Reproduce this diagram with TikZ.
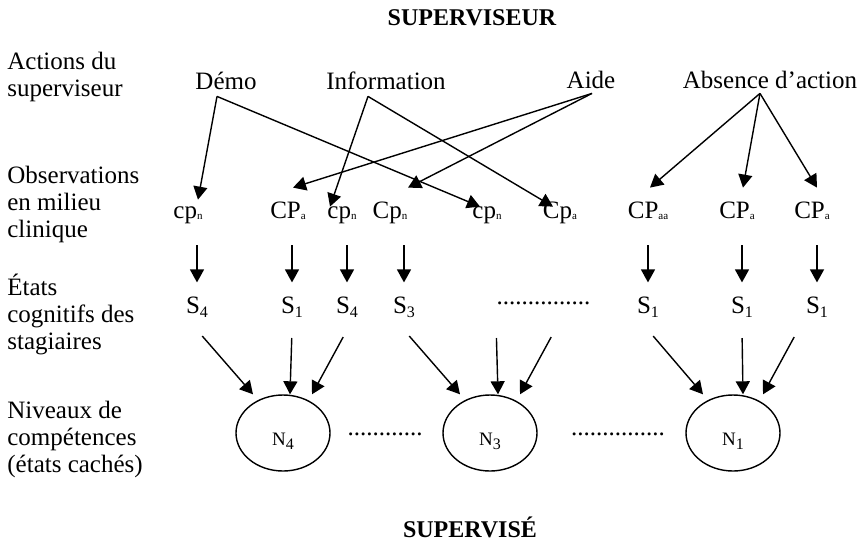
\documentclass[tikz,border=0pt]{standalone}
\usepackage{fontspec}
\setmainfont{Liberation Serif}
\usetikzlibrary{arrows.meta,shapes.geometric}
\newcommand{\pind}[1]{\raisebox{-0.5pt}{\fontsize{5.5}{6}\selectfont #1}}
\newcommand{\sind}[1]{\raisebox{-2pt}{\fontsize{8}{9}\selectfont #1}}

\begin{document}
\begin{tikzpicture}[x=0.5pt,y=-0.5pt,font=\fontsize{12.5}{13.5}\selectfont,
  fleche/.style={line width=0.7pt,->,>={Triangle[length=6.5pt,width=7pt]}},
  action/.style={anchor=base,text depth=2.5pt,inner sep=1pt},
  obs/.style={anchor=base,text height=8pt,text depth=2.5pt,inner sep=1pt},
  etat/.style={anchor=base,text height=8.3pt,text depth=1.5pt,inner sep=1pt,outer sep=6pt},
  niveau/.style={draw,ellipse,line width=0.7pt,minimum width=47pt,minimum height=38pt,
    inner sep=0pt,text height=12pt,text depth=0pt,font=\fontsize{9.5}{10}\selectfont},
  etiq/.style={anchor=base west,inner sep=0pt},
  pointill/.style={anchor=base,inner sep=0pt},
  titre/.style={anchor=base,font=\fontsize{12}{14}\selectfont\bfseries}]
\useasboundingbox (0,0) rectangle (863,543);
\node[titre] (sup) at (472,25) {SUPERVISEUR};
\node[titre] (supe) at (470,537) {SUPERVISÉ};
\node[etiq] (etiqA) at (7,69) {\vtop{\hbox{Actions du}\hbox{superviseur}}};
\node[etiq] (etiqO) at (7,183) {\vtop{\hbox{Observations}\hbox{en milieu}\hbox{clinique}}};
\node[etiq] (etiqE) at (7,295) {\vtop{\hbox{États}\hbox{cognitifs des}\hbox{stagiaires}}};
\node[etiq] (etiqN) at (7,418) {\vtop{\hbox{Niveaux de}\hbox{compétences}\hbox{(états cachés)}}};
\node[action] (demo) at (226,89) {Démo};
\node[action] (info) at (386,89) {Information};
\node[action] (aide) at (591,88) {Aide};
\node[action] (absence) at (770,88) {Absence d’action};
\node[obs] (o1) at (188,218) {cp\pind{n}};
\node[obs] (o2) at (288,218) {CP\pind{a}};
\node[obs] (o3) at (342,218) {cp\pind{n}};
\node[obs] (o4) at (390,218) {Cp\pind{n}};
\node[obs] (o5) at (487,218) {cp\pind{n}};
\node[obs] (o6) at (560,218) {Cp\pind{a}};
\node[obs] (o7) at (648,218) {CP\pind{aa}};
\node[obs] (o8) at (737,218) {CP\pind{a}};
\node[obs] (o9) at (812,218) {CP\pind{a}};
\node[etat] (s1) at (197,313) {S\sind{4}};
\node[etat] (s2) at (292,313) {S\sind{1}};
\node[etat] (s3) at (347,313) {S\sind{4}};
\node[etat] (s4) at (404,313) {S\sind{3}};
\node[pointill] (sd) at (543.5,304) {...............};
\node[etat] (s5) at (648,313) {S\sind{1}};
\node[etat] (s6) at (742,313) {S\sind{1}};
\node[etat] (s7) at (817,313) {S\sind{1}};
\node[niveau] (n4) at (283,433) {N\sind{4}};
\node[niveau] (n3) at (490,433) {N\sind{3}};
\node[niveau] (n1) at (733,433) {N\sind{1}};
\node[pointill] (d1) at (385,435) {............};
\node[pointill] (d2) at (618,435) {...............};
\draw[fleche] ([xshift=-4.5pt]demo.south) -- ([xshift=5pt]o1.north);
\draw[fleche] ([xshift=-4.5pt]demo.south) -- ([shift={(-3.5pt,-3.5pt)}]o5.north);
\draw[fleche] ([xshift=-9pt]info.south) -- ([shift={(-6pt,-3.5pt)}]o3.north);
\draw[fleche] ([xshift=-9pt]info.south) -- ([shift={(-3.5pt,-3.5pt)}]o6.north);
\draw[fleche] ([shift={(0.5pt,1pt)}]aide.south) -- ([shift={(2.5pt,6pt)}]o2.north);
\draw[fleche] ([shift={(0.5pt,1pt)}]aide.south) -- ([shift={(9pt,6pt)}]o4.north);
\draw[fleche] ([shift={(-5pt,1pt)}]absence.south) -- ([shift={(1pt,6pt)}]o7.north);
\draw[fleche] ([shift={(-5pt,1pt)}]absence.south) -- ([shift={(3pt,6pt)}]o8.north);
\draw[fleche] ([shift={(-5pt,1pt)}]absence.south) -- ([shift={(2.5pt,6pt)}]o9.north);
\draw[fleche,shorten <=10pt] (s1.north |- o1.south) -- (s1.north);
\draw[fleche,shorten <=10pt] (s2.north |- o2.south) -- (s2.north);
\draw[fleche,shorten <=10pt] (s3.north |- o3.south) -- (s3.north);
\draw[fleche,shorten <=10pt] (s4.north |- o4.south) -- (s4.north);
\draw[fleche,shorten <=10pt] (s5.north |- o7.south) -- (s5.north);
\draw[fleche,shorten <=10pt] (s6.north |- o8.south) -- (s6.north);
\draw[fleche,shorten <=10pt] (s7.north |- o9.south) -- (s7.north);
\draw[fleche,shorten <=4pt] (s1.south) -- ([xshift=-15pt]n4.north);
\draw[fleche,shorten <=4pt] (s2.south) -- ([xshift=3.5pt]n4.north);
\draw[fleche,shorten <=4pt] (s3.south) -- ([xshift=14.5pt]n4.north);
\draw[fleche,shorten <=4pt] (s4.south) -- ([xshift=-15pt]n3.north);
\draw[fleche,shorten <=4pt] (sd.south west |- s4.south) -- ([xshift=4pt]n3.north);
\draw[fleche,shorten <=4pt] ([xshift=5.75pt]sd.south |- s4.south) -- ([xshift=15pt]n3.north);
\draw[fleche,shorten <=4pt] (s5.south) -- ([xshift=-15pt]n1.north);
\draw[fleche,shorten <=4pt] (s6.south) -- ([xshift=5pt]n1.north);
\draw[fleche,shorten <=4pt] ([xshift=-9.5pt]s7.south) -- ([xshift=15pt]n1.north);
\end{tikzpicture}
\end{document}
